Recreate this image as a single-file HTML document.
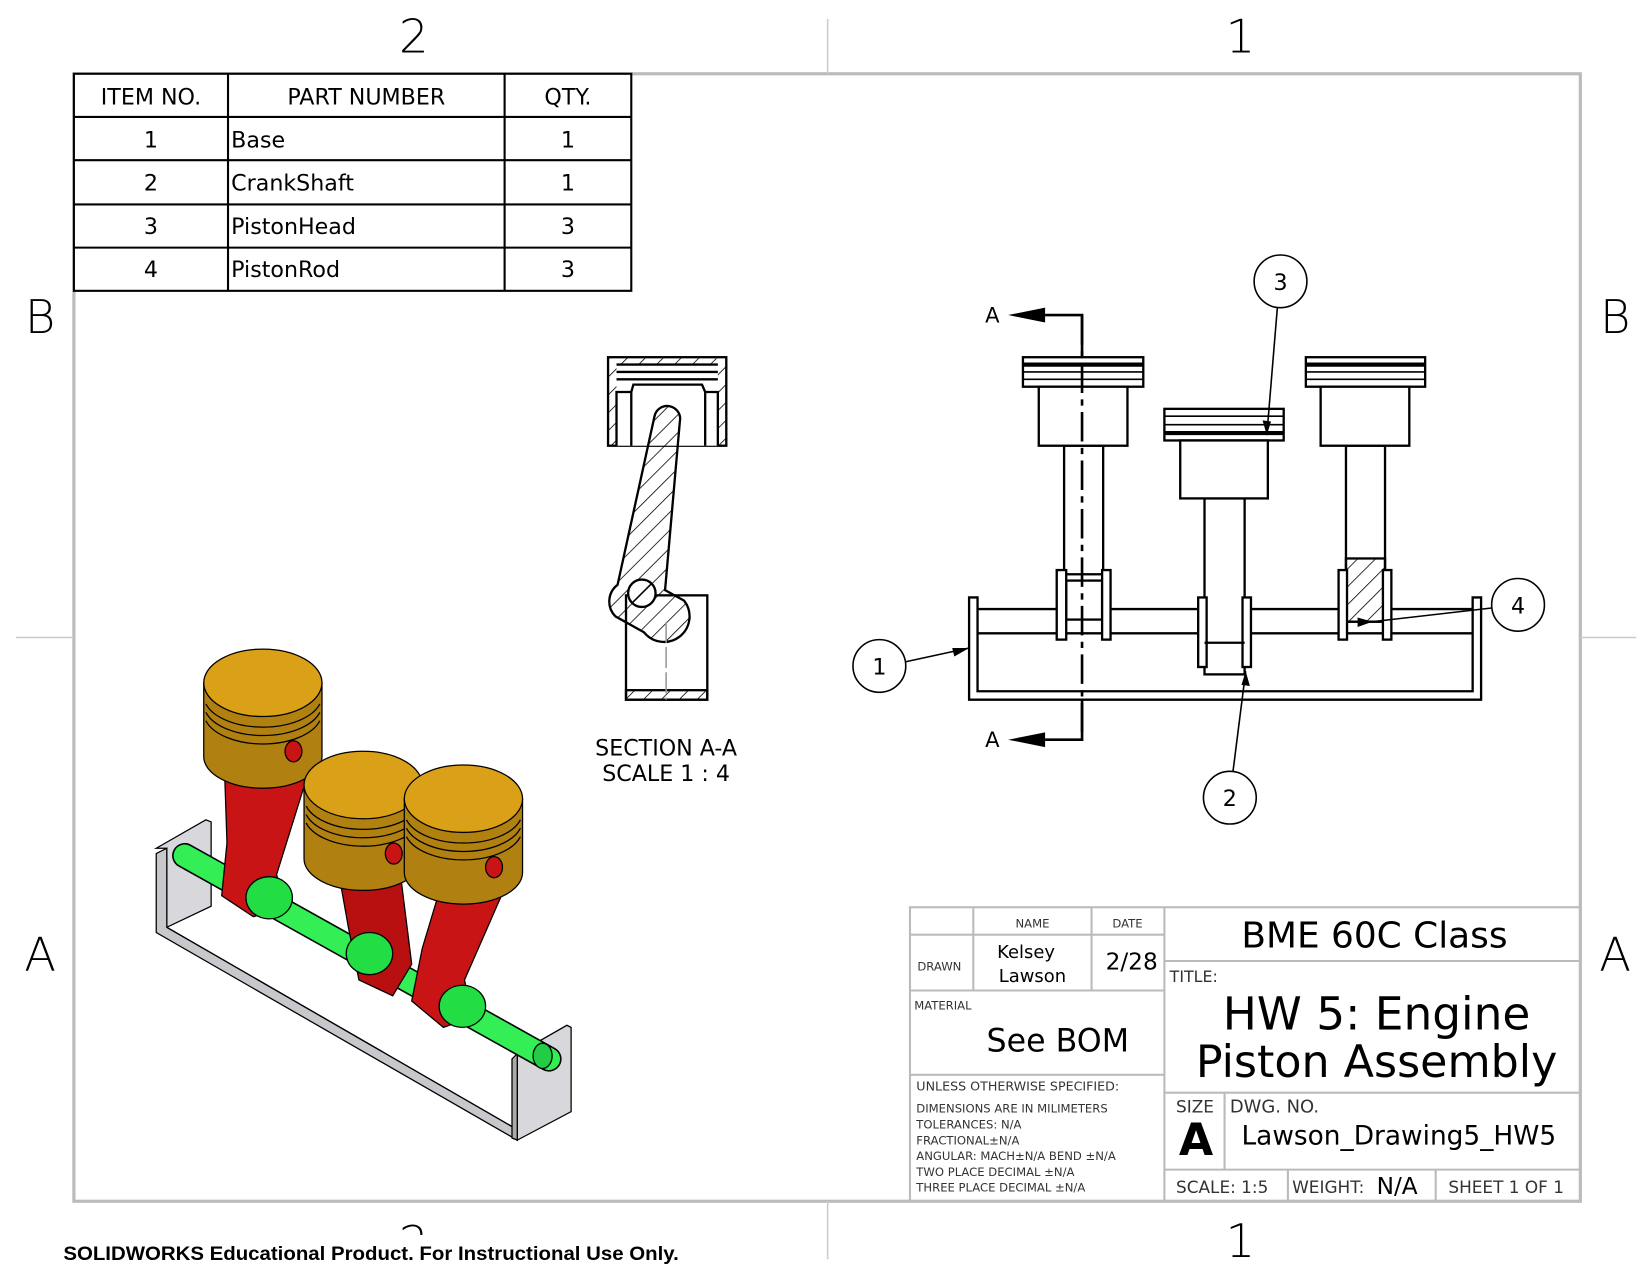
<!DOCTYPE html>
<html><head><meta charset="utf-8"><style>
html,body{margin:0;padding:0;background:#fff;}
svg{display:block}
text{font-family:"DejaVu Sans","Liberation Sans",sans-serif;}
</style></head><body>
<svg width="1650" height="1275" viewBox="0 0 1563 1210" preserveAspectRatio="none" xmlns="http://www.w3.org/2000/svg">
<defs>
<pattern id="h" patternUnits="userSpaceOnUse" width="12" height="12" patternTransform="rotate(45)">
<line x1="0" y1="0" x2="0" y2="12" stroke="#000" stroke-width="1.5"/></pattern>
</defs>
<rect x="70" y="70" width="1427" height="1070" fill="none" stroke="#bbb" stroke-width="3"/>
<g stroke="#ccc" stroke-width="1.5">
<line x1="784" y1="18" x2="784" y2="70"/><line x1="784" y1="1140" x2="784" y2="1195"/>
<line x1="15" y1="605" x2="70" y2="605"/><line x1="1497" y1="605" x2="1550" y2="605"/>
</g>
<g font-size="44" text-anchor="middle" font-weight="300">
<text x="392" y="50">2</text><text x="1175" y="50">1</text>
<text x="392" y="1195">2</text><text x="1175" y="1193">1</text>
<text x="38" y="316">B</text><text x="1530" y="316">B</text>
<text x="38" y="921">A</text><text x="1530" y="921">A</text>
</g>
<rect x="55" y="1172" width="620" height="30" fill="#fff"/>
<text x="60" y="1196" font-size="18" font-weight="bold" style="font-family:'Liberation Sans',sans-serif" textLength="583" lengthAdjust="spacingAndGlyphs">SOLIDWORKS Educational Product. For Instructional Use Only.</text>

<g stroke="#000" stroke-width="2" fill="none">
<rect x="70" y="70" width="528" height="206" fill="#fff"/>
<line x1="70" y1="111" x2="598" y2="111"/><line x1="70" y1="152" x2="598" y2="152"/>
<line x1="70" y1="194" x2="598" y2="194"/><line x1="70" y1="235" x2="598" y2="235"/>
<line x1="216" y1="70" x2="216" y2="276"/><line x1="478" y1="70" x2="478" y2="276"/>
</g>
<g font-size="21">
<text x="143" y="99" text-anchor="middle">ITEM NO.</text>
<text x="347" y="99" text-anchor="middle">PART NUMBER</text>
<text x="538" y="99" text-anchor="middle">QTY.</text>
<text x="143" y="140" text-anchor="middle">1</text><text x="219" y="140">Base</text><text x="538" y="140" text-anchor="middle">1</text>
<text x="143" y="181" text-anchor="middle">2</text><text x="219" y="181">CrankShaft</text><text x="538" y="181" text-anchor="middle">1</text>
<text x="143" y="222" text-anchor="middle">3</text><text x="219" y="222">PistonHead</text><text x="538" y="222" text-anchor="middle">3</text>
<text x="143" y="263" text-anchor="middle">4</text><text x="219" y="263">PistonRod</text><text x="538" y="263" text-anchor="middle">3</text>
</g>

<g stroke="#000" stroke-width="2.2">
<rect x="576" y="339" width="112" height="84" fill="url(#h)"/>
<rect x="584" y="346" width="96" height="77" fill="#fff" stroke="none"/>
<line x1="584" y1="346" x2="680" y2="346"/>
<line x1="584" y1="353" x2="680" y2="353"/>
<line x1="584" y1="360" x2="680" y2="360"/>
<polyline points="584,423 584,372 598,372 600,365 665,365 668,372 680,372 680,423" fill="none"/>
<line x1="598" y1="372" x2="598" y2="423"/><line x1="668" y1="372" x2="668" y2="423"/>
<rect x="593" y="565" width="77" height="99" fill="#fff"/>
<rect x="593" y="655" width="77" height="9" fill="url(#h)"/>
<path d="M620,395 A12,12 0 0 1 644,400 L630,560 L648,570 A22,22 0 0 1 610,600 L583,585 A20,20 0 0 1 585,555 Z" fill="url(#h)"/>
<circle cx="608" cy="563" r="13" fill="#fff"/>
<line x1="599" y1="572" x2="617" y2="554" stroke-width="1.5"/>
</g>
<line x1="631" y1="590" x2="631" y2="664" stroke="#999" stroke-width="1.5" stroke-dasharray="20,4"/>
<text x="631" y="717" font-size="21" text-anchor="middle">SECTION A-A</text>
<text x="631" y="741" font-size="21" text-anchor="middle">SCALE 1 : 4</text>

<g stroke="#000" stroke-width="2.2" fill="#fff">
<path d="M918,567 L926,567 L926,656 L1395,656 L1395,567 L1403,567 L1403,664 L918,664 Z"/>
<line x1="926" y1="578" x2="1395" y2="578"/><line x1="926" y1="601" x2="1395" y2="601"/>
<rect x="1008" y="423" width="37" height="122"/>
<rect x="1010" y="551" width="34" height="37"/>
<rect x="1001" y="541" width="9" height="66"/><rect x="1044" y="541" width="8" height="66"/>
<rect x="969" y="339" width="114" height="28"/>
<rect x="984" y="367" width="84" height="56"/>
<rect x="1141" y="473" width="38" height="167"/>
<rect x="1135" y="567" width="8" height="66"/><rect x="1177" y="567" width="8" height="66"/>
<line x1="1141" y1="610" x2="1179" y2="610"/>
<rect x="1103" y="388" width="113" height="30"/>
<rect x="1118" y="418" width="83" height="55"/>
<rect x="1275" y="423" width="37" height="167"/>
<rect x="1275" y="530" width="37" height="60" fill="url(#h)"/>
<rect x="1268" y="541" width="8" height="66"/><rect x="1310" y="541" width="8" height="66"/>
<rect x="1237" y="339" width="113" height="28"/>
<rect x="1251" y="367" width="84" height="56"/>
</g>
<g stroke="#000">
<line x1="969" y1="346" x2="1083" y2="346" stroke-width="4"/><line x1="969" y1="353" x2="1083" y2="353" stroke-width="1.5"/><line x1="969" y1="360" x2="1083" y2="360" stroke-width="1.5"/>
<line x1="1237" y1="346" x2="1350" y2="346" stroke-width="4"/><line x1="1237" y1="353" x2="1350" y2="353" stroke-width="1.5"/><line x1="1237" y1="360" x2="1350" y2="360" stroke-width="1.5"/>
<line x1="1103" y1="395" x2="1216" y2="395" stroke-width="1.5"/><line x1="1103" y1="403" x2="1216" y2="403" stroke-width="1.5"/><line x1="1103" y1="411" x2="1216" y2="411" stroke-width="4"/>
</g>
<line x1="1025" y1="299" x2="1025" y2="702" stroke="#000" stroke-width="2.5" stroke-dasharray="28,6,6,6"/>
<polyline points="990,299 1025,299 1025,340" fill="none" stroke="#000" stroke-width="2.5"/>
<polyline points="990,702 1025,702 1025,664" fill="none" stroke="#000" stroke-width="2.5"/>
<polygon points="955,299 990,292 990,306" fill="#000"/>
<polygon points="955,702 990,695 990,709" fill="#000"/>
<text x="940" y="306" font-size="20" text-anchor="middle">A</text>
<text x="940" y="709" font-size="20" text-anchor="middle">A</text>
<g stroke="#000" stroke-width="1.5" fill="#fff">
<line x1="1210" y1="292" x2="1200" y2="413"/>
<line x1="1413" y1="577" x2="1300" y2="590"/>
<line x1="858" y1="628" x2="918" y2="615"/>
<line x1="1168" y1="732" x2="1180" y2="637"/>
<circle cx="1213" cy="267" r="25"/><circle cx="1438" cy="574" r="25"/>
<circle cx="833" cy="632" r="25"/><circle cx="1165" cy="757" r="25"/>
</g>
<g fill="#000"><polygon points="1200,413 1196,399 1204,400"/><polygon points="1300,590 1286,595 1286,586"/>
<polygon points="918,615 904,623 902,615"/><polygon points="1180,637 1184,651 1176,650"/></g>
<g font-size="21" text-anchor="middle">
<text x="1213" y="275">3</text><text x="1438" y="582">4</text><text x="833" y="640">1</text><text x="1165" y="765">2</text>
</g>

<!-- 3D view -->
<g stroke="#000" stroke-width="1.2">
<polygon points="148,805 195,778 200,780 200,860 158,880 158,805" fill="#d8d8dc"/>
<polygon points="148,810 158,805 158,880 490,1072 490,1082 148,885" fill="#c8c8cc"/>
<line x1="158" y1="880" x2="490" y2="1072"/>
<polygon points="490,1000 537,973 541,975 541,1055 490,1082 490,1000" fill="#d8d8dc"/>
<polygon points="485,1005 490,1000 490,1082 485,1080" fill="#aaa"/>
<line x1="175" y1="812" x2="520" y2="1005" stroke="#000" stroke-width="24" stroke-linecap="round"/>
<line x1="175" y1="812" x2="520" y2="1005" stroke="#33ee55" stroke-width="21" stroke-linecap="round"/>
<ellipse cx="514" cy="1002" rx="9" ry="12" fill="#22cc44"/>
<polygon points="213,740 290,740 262,830 270,860 240,870 210,850 215,800" fill="#c81414"/>
<polygon points="322,835 380,835 390,915 372,945 340,930 330,880" fill="#b81010"/>
<polygon points="415,850 475,850 440,930 448,965 420,975 390,950 400,900" fill="#c81414"/>
<ellipse cx="255" cy="852" rx="22" ry="20" fill="#22dd44"/>
<ellipse cx="350" cy="905" rx="22" ry="20" fill="#22dd44"/>
<ellipse cx="438" cy="955" rx="22" ry="20" fill="#22dd44"/>
<path d="M193,648 L193,718 A56,30 0 0 0 305,718 L305,648 Z" fill="#b08010"/>
<ellipse cx="249" cy="648" rx="56" ry="32" fill="#daa018"/>
<path d="M195,668 A56,30 0 0 0 303,668 M195,676 A56,30 0 0 0 303,676 M195,684 A56,30 0 0 0 303,684" fill="none"/>
<ellipse cx="278" cy="713" rx="8" ry="10" fill="#c81414"/>
<path d="M288,745 L288,815 A56,30 0 0 0 400,815 L400,745 Z" fill="#b08010"/>
<ellipse cx="344" cy="745" rx="56" ry="32" fill="#daa018"/>
<path d="M290,765 A56,30 0 0 0 398,765 M290,773 A56,30 0 0 0 398,773 M290,781 A56,30 0 0 0 398,781" fill="none"/>
<ellipse cx="373" cy="810" rx="8" ry="10" fill="#c81414"/>
<path d="M383,758 L383,828 A56,30 0 0 0 495,828 L495,758 Z" fill="#b08010"/>
<ellipse cx="439" cy="758" rx="56" ry="32" fill="#daa018"/>
<path d="M385,778 A56,30 0 0 0 493,778 M385,786 A56,30 0 0 0 493,786 M385,794 A56,30 0 0 0 493,794" fill="none"/>
<ellipse cx="468" cy="823" rx="8" ry="10" fill="#c81414"/>
</g>

<g stroke="#bbb" stroke-width="2" fill="none">
<rect x="862" y="861" width="635" height="279"/>
<line x1="1103" y1="861" x2="1103" y2="1140"/>
<line x1="922" y1="861" x2="922" y2="940"/><line x1="1034" y1="861" x2="1034" y2="940"/>
<line x1="862" y1="887" x2="1103" y2="887"/><line x1="862" y1="940" x2="1103" y2="940"/>
<line x1="862" y1="1020" x2="1103" y2="1020"/>
<line x1="1103" y1="912" x2="1497" y2="912"/><line x1="1103" y1="1037" x2="1497" y2="1037"/>
<line x1="1103" y1="1110" x2="1497" y2="1110"/>
<line x1="1160" y1="1037" x2="1160" y2="1110"/>
<line x1="1220" y1="1110" x2="1220" y2="1140"/><line x1="1360" y1="1110" x2="1360" y2="1140"/>
</g>
<g font-size="11" fill="#333">
<text x="978" y="880" text-anchor="middle">NAME</text>
<text x="1068" y="880" text-anchor="middle">DATE</text>
<text x="869" y="921">DRAWN</text>
<text x="866" y="958">MATERIAL</text>
<text x="868" y="1035" font-size="12">UNLESS OTHERWISE SPECIFIED:</text>
<text x="868" y="1056">DIMENSIONS ARE IN MILIMETERS</text>
<text x="868" y="1071">TOLERANCES: N/A</text>
<text x="868" y="1086">FRACTIONAL±N/A</text>
<text x="868" y="1101">ANGULAR: MACH±N/A  BEND ±N/A</text>
<text x="868" y="1116">TWO PLACE DECIMAL    ±N/A</text>
<text x="868" y="1131">THREE PLACE DECIMAL  ±N/A</text>
</g>
<text x="972" y="909" font-size="17" text-anchor="middle">Kelsey</text>
<text x="978" y="932" font-size="17" text-anchor="middle">Lawson</text>
<text x="1072" y="920" font-size="22" text-anchor="middle">2/28</text>
<text x="1002" y="998" font-size="30" text-anchor="middle">See BOM</text>
<text x="1302" y="899" font-size="34" text-anchor="middle">BME 60C Class</text>
<text x="1108" y="932" font-size="15" fill="#333">TITLE:</text>
<text x="1304" y="977" font-size="43" text-anchor="middle">HW 5: Engine</text>
<text x="1304" y="1022" font-size="42" text-anchor="middle">Piston Assembly</text>
<text x="1114" y="1056" font-size="16" fill="#333">SIZE</text>
<text x="1133" y="1096" font-size="42" font-weight="bold" text-anchor="middle">A</text>
<text x="1165" y="1056" font-size="17" fill="#333">DWG.  NO.</text>
<text x="1176" y="1086" font-size="25">Lawson_Drawing5_HW5</text>
<text x="1114" y="1132" font-size="16" fill="#333">SCALE: 1:5</text>
<text x="1224" y="1132" font-size="16" fill="#333">WEIGHT:</text>
<text x="1304" y="1133" font-size="22">N/A</text>
<text x="1372" y="1132" font-size="16" fill="#333">SHEET 1 OF 1</text>
</svg>
</body></html>
